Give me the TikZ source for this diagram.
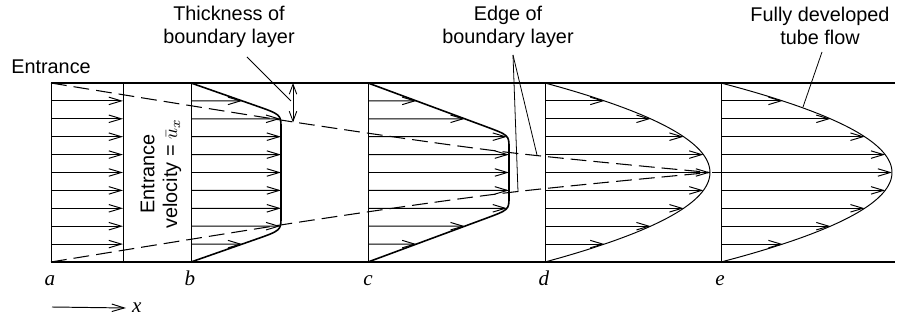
\documentclass[tikz,border=0pt]{standalone}
\usepackage{fontspec}
\setmainfont{Liberation Sans}
\newfontfamily\letterfont{Liberation Serif}
\usetikzlibrary{arrows.meta, intersections}

\begin{document}
\begin{tikzpicture}[x=0.02cm, y=-0.02cm,
        wall/.style={line width=1.3pt},
        station/.style={line width=0.55pt},
        flow/.style={-{Straight Barb[length=2.5mm,width=1.5mm]}, line width=0.55pt},
        prof/.style={line width=0.9pt},
        bl/.style={dash pattern=on 9pt off 4pt, line width=0.6pt},
        lbl/.style={font=\fontsize{11.3}{13}\selectfont, align=center},
        stn/.style={font=\fontsize{12}{14}\selectfont\letterfont\itshape, anchor=base},
        lead/.style={line width=0.45pt}
    ]
    \useasboundingbox (0,0) rectangle (900,320);

    % tube walls
    \draw[wall] (51,83) -- (895,83);
    \draw[wall] (51,262) -- (895,262);

    % stations a..e and front of uniform profile
    \foreach \xs in {51,191,368,545,721} \draw[station] (\xs,83) -- (\xs,262);
    \draw[station] (123,83) -- (123,262);

    % uniform entrance profile
    \foreach \k in {1,...,9} \draw[flow] (51,83+17.9*\k) -- (123,83+17.9*\k);

    % developing profiles b and c
    \draw[prof, name path=pb] (191,83) -- (255,105.4) .. controls (281,114.5) .. (281,128)
        -- (281,217) .. controls (281,230.5) .. (255,239.6) -- (191,262);
    \draw[prof, name path=pc] (368,83) -- (485,126.3) .. controls (509,135.2) .. (509,148)
        -- (509,197) .. controls (509,209.8) .. (485,218.7) -- (368,262);
    \foreach \k in {1,...,9} {
        \path[name path=rowb] (191,83+17.9*\k) -- (320,83+17.9*\k);
        \draw[flow, name intersections={of=pb and rowb}] (191,83+17.9*\k) -- (intersection-1);
        \path[name path=rowc] (368,83+17.9*\k) -- (540,83+17.9*\k);
        \draw[flow, name intersections={of=pc and rowc}] (368,83+17.9*\k) -- (intersection-1);
    }

    % parabolic profiles d and e
    \draw[station] plot[domain=-1:1, samples=41, smooth] ({545+165*(1-\x*\x)}, {172.5+89.5*\x});
    \draw[station] plot[domain=-1:1, samples=41, smooth] ({721+171*(1-\x*\x)}, {172.5+89.5*\x});
    \foreach \k in {1,...,9} {
        \draw[flow] (545,83+17.9*\k) -- ({545+165*(1-((\k-5)/5)*((\k-5)/5))},83+17.9*\k);
        \draw[flow] (721,83+17.9*\k) -- ({721+171*(1-((\k-5)/5)*((\k-5)/5))},83+17.9*\k);
    }

    % edges of boundary layer
    \draw[bl] plot[smooth] coordinates {(51,83) (300,123) (505,152) (710,172.5)};
    \draw[bl] plot[smooth] coordinates {(51,262) (300,222) (505,193) (710,172.5)};
    \draw[bl, line width=1pt] (712,172.5) -- (878,172.5);

    % thickness of boundary layer
    \coordinate (tktop) at (293,83);
    \coordinate (tkbot) at (293,122.5);
    \draw[{Straight Barb[length=2mm,width=1.5mm]}-{Straight Barb[length=2mm,width=1.5mm]},
          line width=0.5pt] (tktop) -- (tkbot);

    % labels
    \node[lbl] (thick) at (229,27) {Thickness of\\boundary layer};
    \node[lbl] (edge)  at (508,27) {Edge of\\boundary layer};
    \node[lbl] (full)  at (820,26) {Fully developed\\tube flow};
    \node[lbl] (entr)  at (51,67)  {Entrance};
    \node[lbl, rotate=90] (vel) at (161,174) {Entrance\\velocity = $\bar{u}_x$};

    \coordinate (thickfoot) at (247,57);
    \coordinate (thickend)  at (291,101);
    \coordinate (edgefoot)  at (513,55);
    \coordinate (edgelow)   at (518,191.7);
    \coordinate (edgeup)    at (537,155);
    \coordinate (fullfoot)  at (822,52);
    \coordinate (fullend)   at (803,107);
    \draw[lead] (thickfoot) -- (thickend);
    \draw[lead] (edgefoot) -- (edgelow);
    \draw[lead] (edgefoot) -- (edgeup);
    \draw[lead] (fullfoot) -- (fullend);

    % station letters
    \node[stn] (la) at (50,286)  {a};
    \node[stn] (lb) at (190,286) {b};
    \node[stn] (lc) at (368,286) {c};
    \node[stn] (ld) at (544,286) {d};
    \node[stn] (le) at (720,286) {e};

    % direction of x
    \coordinate (xfrom) at (52,307);
    \node[stn, anchor=west] (xdir) at (126,308) {x};
    \draw[flow] (xfrom) -- (xdir.west);
\end{tikzpicture}
\end{document}
